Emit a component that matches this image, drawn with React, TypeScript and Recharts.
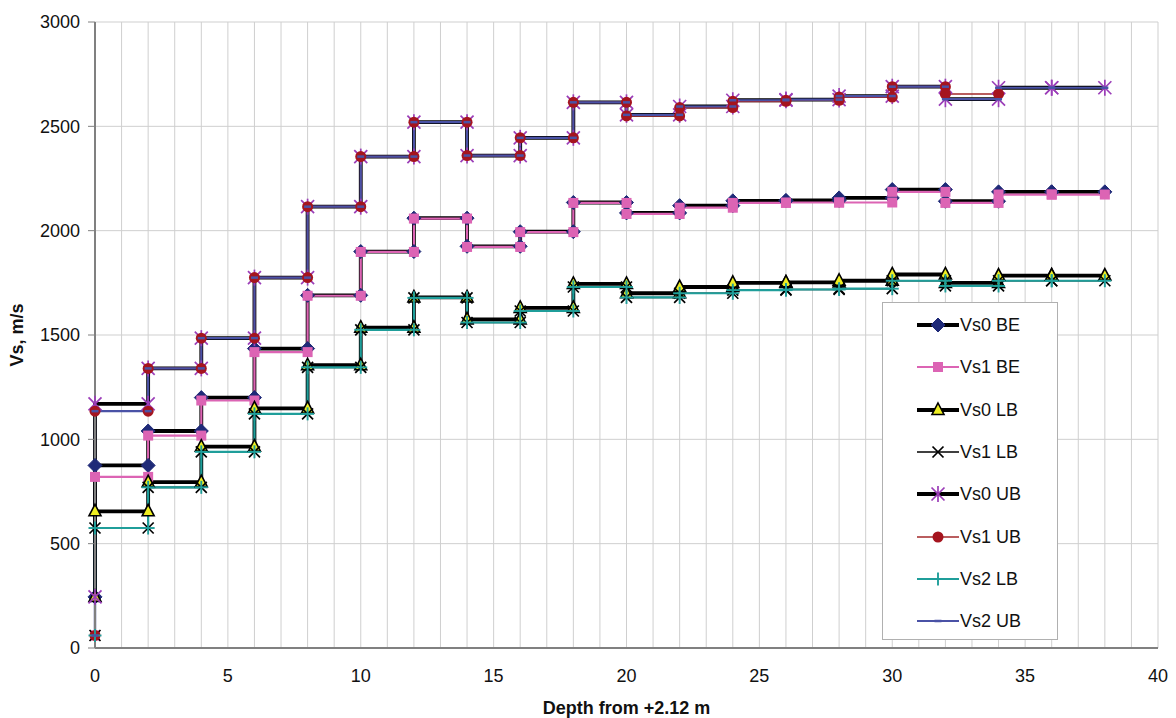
import React from 'react';
import { LineChart, Line, XAxis, YAxis, CartesianGrid, Label } from 'recharts';

// Layer boundaries (depth, m) — every layer is 2 m thick
const DEPTH = [0, 2, 4, 6, 8, 10, 12, 14, 16, 18, 20, 22, 24, 26, 28, 30, 32, 34, 36, 38];

// Shear-wave velocity per layer (m/s)
const vs0BE = [875, 1040, 1200, 1435, 1690, 1900, 2060, 1925, 1995, 2135, 2085, 2120, 2143, 2145, 2157, 2197, 2141, 2186, 2186];
const vs1BE = [820, 1018, 1186, 1418, 1688, 1898, 2058, 1922, 1993, 2133, 2080, 2110, 2133, 2135, 2135, 2186, 2133, 2173, 2173];
const vs0LB = [655, 795, 965, 1148, 1355, 1535, 1680, 1575, 1630, 1745, 1700, 1730, 1750, 1752, 1760, 1790, 1750, 1785, 1785];
const vs1LB = [575, 770, 940, 1122, 1345, 1525, 1678, 1560, 1615, 1730, 1680, 1700, 1715, 1718, 1722, 1760, 1735, 1760, 1760];
const vs0UB = [1170, 1340, 1485, 1775, 2115, 2355, 2520, 2360, 2445, 2615, 2555, 2595, 2625, 2628, 2645, 2690, 2630, 2685, 2685];
const vs1UB = [1135, 1340, 1485, 1775, 2115, 2355, 2520, 2360, 2445, 2615, 2550, 2590, 2620, 2625, 2640, 2690, 2655];
const vs2LB = [575, 770, 940, 1122, 1345, 1525, 1678, 1560, 1615, 1730, 1680, 1700, 1715, 1718, 1722, 1760, 1735, 1760, 1760];
const vs2UB = [1135, 1340, 1485, 1775, 2115, 2355, 2520, 2360, 2445, 2615, 2555, 2595, 2625, 2628, 2645, 2690, 2630, 2685, 2685];

// Velocity at the ground surface (depth 0)
const SURFACE_VS0 = 245;
const SURFACE_VS1 = 60;

const X_TICKS = Array.from({ length: 41 }, (_, i) => i);
const Y_TICKS = [0, 500, 1000, 1500, 2000, 2500, 3000];

type Pt = { x: number; y: number };

// Turn layer velocities into a stepped profile: top and bottom point of each layer
function steps(surface: number, values: number[]): Pt[] {
  const pts: Pt[] = [{ x: DEPTH[0], y: surface }];
  values.forEach((v, i) => {
    pts.push({ x: DEPTH[i], y: v });
    pts.push({ x: DEPTH[i + 1], y: v });
  });
  return pts;
}

type MarkerKind = 'diamond' | 'square' | 'triangle' | 'x' | 'asterisk' | 'circle' | 'plus' | 'dash';

function Marker({ kind, cx, cy, color }: { kind: MarkerKind; cx: number; cy: number; color: string }) {
  switch (kind) {
    case 'diamond':
      return <polygon points={`${cx},${cy - 7} ${cx + 7},${cy} ${cx},${cy + 7} ${cx - 7},${cy}`} fill={color} stroke={color} strokeWidth={1} />;
    case 'square':
      return <rect x={cx - 5} y={cy - 5} width={10} height={10} fill={color} />;
    case 'triangle':
      return <polygon points={`${cx},${cy - 7} ${cx + 6},${cy + 4.5} ${cx - 6},${cy + 4.5}`} fill={color} stroke="#000" strokeWidth={1.6} />;
    case 'x':
      return (
        <g stroke={color} strokeWidth={1.7}>
          <line x1={cx - 5.5} y1={cy - 5.5} x2={cx + 5.5} y2={cy + 5.5} />
          <line x1={cx - 5.5} y1={cy + 5.5} x2={cx + 5.5} y2={cy - 5.5} />
        </g>
      );
    case 'asterisk':
      return (
        <g stroke={color} strokeWidth={1.7}>
          <line x1={cx - 6.5} y1={cy - 6.5} x2={cx + 6.5} y2={cy + 6.5} />
          <line x1={cx - 6.5} y1={cy + 6.5} x2={cx + 6.5} y2={cy - 6.5} />
          <line x1={cx} y1={cy - 8} x2={cx} y2={cy + 8} />
        </g>
      );
    case 'circle':
      return <circle cx={cx} cy={cy} r={5.5} fill={color} />;
    case 'plus':
      return (
        <g stroke={color} strokeWidth={1.9}>
          <line x1={cx - 6.5} y1={cy} x2={cx + 6.5} y2={cy} />
          <line x1={cx} y1={cy - 6.5} x2={cx} y2={cy + 6.5} />
        </g>
      );
    case 'dash':
    default:
      return <line x1={cx - 3.5} y1={cy} x2={cx + 3.5} y2={cy} stroke={color} strokeWidth={2.5} />;
  }
}

type Series = {
  name: string;
  data: Pt[];
  line: string;
  width: number;
  marker: MarkerKind;
  markerColor: string;
};

const SERIES: Series[] = [
  { name: 'Vs0 BE', data: steps(SURFACE_VS0, vs0BE), line: '#000000', width: 3.8, marker: 'diamond', markerColor: '#1f2a78' },
  { name: 'Vs1 BE', data: steps(SURFACE_VS1, vs1BE), line: '#dc64b4', width: 2.2, marker: 'square', markerColor: '#dc64b4' },
  { name: 'Vs0 LB', data: steps(SURFACE_VS0, vs0LB), line: '#000000', width: 3.8, marker: 'triangle', markerColor: '#eeee22' },
  { name: 'Vs1 LB', data: steps(SURFACE_VS1, vs1LB), line: '#000000', width: 1.6, marker: 'x', markerColor: '#000000' },
  { name: 'Vs0 UB', data: steps(SURFACE_VS0, vs0UB), line: '#000000', width: 3.8, marker: 'asterisk', markerColor: '#9b3db8' },
  { name: 'Vs1 UB', data: steps(SURFACE_VS1, vs1UB), line: '#a3282a', width: 1.7, marker: 'circle', markerColor: '#a5141e' },
  { name: 'Vs2 LB', data: steps(SURFACE_VS1, vs2LB), line: '#1f9e9a', width: 2.2, marker: 'plus', markerColor: '#1f9e9a' },
  { name: 'Vs2 UB', data: steps(SURFACE_VS1, vs2UB), line: '#4a52a6', width: 2.2, marker: 'dash', markerColor: '#4a52a6' },
];

const FONT = '"Liberation Sans", Arial, sans-serif';

function LegendBox() {
  return (
    <div
      style={{
        position: 'absolute',
        left: 882,
        top: 302,
        width: 176,
        height: 338,
        boxSizing: 'border-box',
        border: '1px solid #b0b0b0',
        background: '#fff',
        paddingTop: 1,
        fontFamily: FONT,
      }}
    >
      {SERIES.map((s) => (
        <div key={s.name} style={{ display: 'flex', alignItems: 'center', height: 42.3 }}>
          <svg width={42} height={20} style={{ marginLeft: 34, flex: 'none' }}>
            <line x1={0} y1={10} x2={42} y2={10} stroke={s.line} strokeWidth={s.width} />
            <Marker kind={s.marker} cx={21} cy={10} color={s.markerColor} />
          </svg>
          <span style={{ fontSize: 18, color: '#111', marginLeft: 1, lineHeight: '20px' }}>{s.name}</span>
        </div>
      ))}
    </div>
  );
}

export default function App() {
  return (
    <div style={{ position: 'absolute', left: 0, top: 0, width: 1176, height: 718, background: '#fff' }}>
      <LineChart width={1176} height={718} margin={{ top: 22, right: 18, bottom: 4, left: 8 }}>
        <CartesianGrid stroke="#cfcfcf" strokeWidth={1} />
        <XAxis
          type="number"
          dataKey="x"
          domain={[0, 40]}
          ticks={X_TICKS}
          interval={0}
          tickFormatter={(v: number) => (v % 5 === 0 ? String(v) : '')}
          tickLine={false}
          tickSize={0}
          tickMargin={21}
          height={66}
          axisLine={{ stroke: '#808080', strokeWidth: 2 }}
          tick={{ fill: '#111', fontSize: 18, fontFamily: FONT }}
        >
          <Label
            value="Depth from +2.12 m"
            position="insideBottom"
            offset={0}
            style={{ fontFamily: FONT, fontSize: 18, fontWeight: 'bold', fill: '#111' }}
          />
        </XAxis>
        <YAxis
          type="number"
          domain={[0, 3000]}
          ticks={Y_TICKS}
          interval={0}
          width={87}
          tickSize={7}
          tickMargin={8}
          tickLine={{ stroke: '#808080' }}
          axisLine={{ stroke: '#808080', strokeWidth: 2 }}
          tick={{ fill: '#111', fontSize: 18, fontFamily: FONT }}
        >
          <Label
            value="Vs, m/s"
            angle={-90}
            position="insideLeft"
            offset={9}
            style={{ fontFamily: FONT, fontSize: 18, fontWeight: 'bold', fill: '#111', textAnchor: 'middle' }}
          />
        </YAxis>
        {SERIES.map((s) => (
          <Line
            key={s.name}
            name={s.name}
            data={s.data}
            dataKey="y"
            type="linear"
            stroke={s.line}
            strokeWidth={s.width}
            isAnimationActive={false}
            activeDot={false}
            dot={(p: any) => (
              <Marker key={`${s.name}-${p.index}`} kind={s.marker} cx={p.cx} cy={p.cy} color={s.markerColor} />
            )}
          />
        ))}
      </LineChart>
      <LegendBox />
    </div>
  );
}
